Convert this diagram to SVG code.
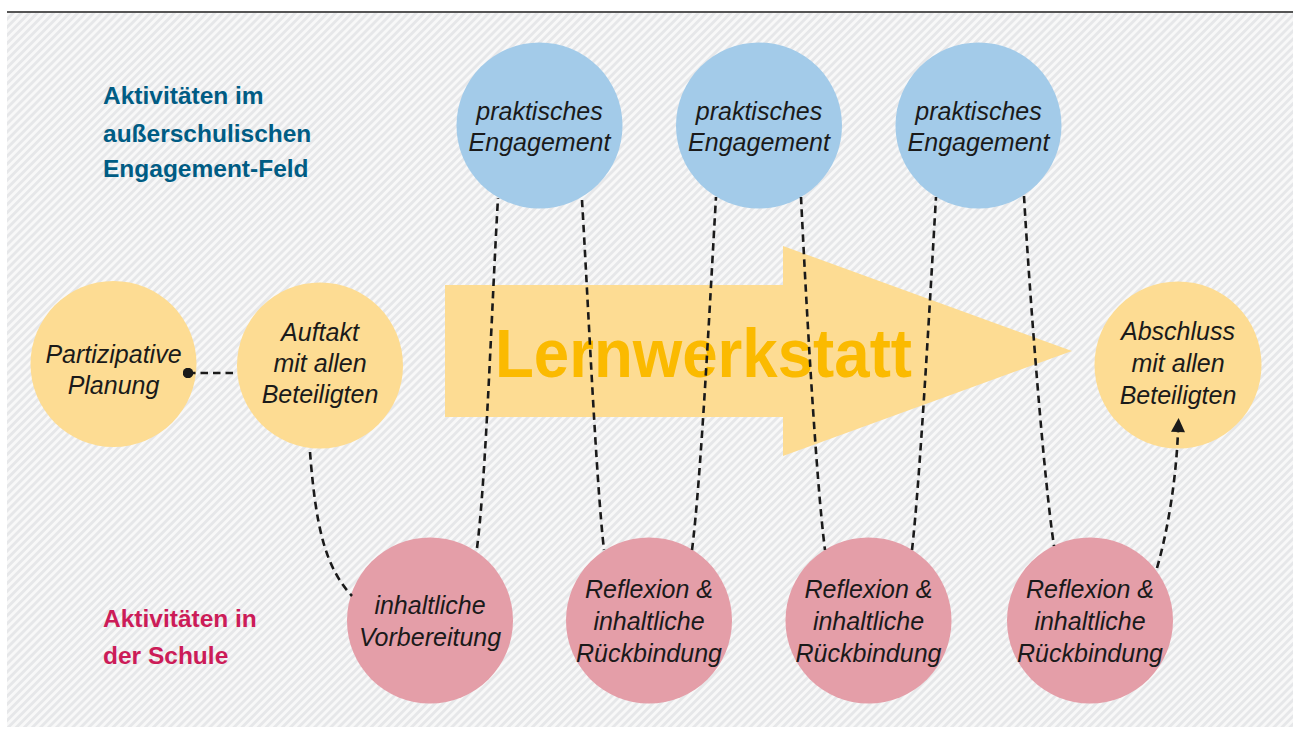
<svg xmlns="http://www.w3.org/2000/svg" width="1298" height="729" viewBox="0 0 1298 729">
<defs>
<pattern id="stripes" patternUnits="userSpaceOnUse" width="5.7" height="5.7" patternTransform="rotate(45)">
<rect x="0" y="0" width="5.7" height="5.7" fill="#f8f8f8"/>
<rect x="0" y="0" width="2.8" height="5.7" fill="#e6e7e9"/>
</pattern>
<marker id="arrow" viewBox="0 0 10 10" refX="0" refY="5" markerUnits="userSpaceOnUse" markerWidth="17" markerHeight="14" orient="auto">
<path d="M0,0 L10,5 L0,10 z" fill="#1a1a1a"/>
</marker>
<marker id="dot" viewBox="0 0 10 10" refX="5" refY="5" markerUnits="userSpaceOnUse" markerWidth="10.5" markerHeight="10.5">
<circle cx="5" cy="5" r="5" fill="#1a1a1a"/>
</marker>
</defs>
<style>
.yellow{fill:#fddc93}
.blue{fill:#a3cbe9}
.pink{fill:#e49ea8}
.ct{font-family:"Liberation Sans",Arial,sans-serif;font-style:italic;font-size:25px;fill:#1a1a1a;text-anchor:middle}
.lbl{font-family:"Liberation Sans","Noto Sans",sans-serif;font-weight:bold;font-size:24.5px}
.conn{fill:none;stroke:#1a1a1a;stroke-width:2.6;stroke-dasharray:7.5 5}
</style>
<rect x="7" y="12" width="1286" height="715" fill="url(#stripes)"/>
<line x1="7" y1="12" x2="1293" y2="12" stroke="#555555" stroke-width="2"/>

<g id="labels">
<text class="lbl" fill="#005c84" x="103" y="104">Aktivitäten im</text>
<text class="lbl" fill="#005c84" x="103" y="141.5">außerschulischen</text>
<text class="lbl" fill="#005c84" x="103" y="177">Engagement-Feld</text>
<text class="lbl" fill="#cc1c58" x="103" y="627">Aktivitäten in</text>
<text class="lbl" fill="#cc1c58" x="103" y="664">der Schule</text>
</g>

<g id="lernwerkstatt">
<polygon class="yellow" points="445,285 783,285 783,246 1072,351 783,456 783,417 445,417"/>
<text x="495" y="377" font-family="Liberation Sans, Arial, sans-serif" font-weight="bold" font-size="69" fill="#fbba00" textLength="417" lengthAdjust="spacingAndGlyphs">Lernwerkstatt</text>
</g>

<g id="partizipative">
<circle class="yellow" cx="113.5" cy="364" r="83"/>
<text class="ct" x="113.5" y="363">Partizipative</text>
<text class="ct" x="113.5" y="394">Planung</text>
</g>
<g id="auftakt">
<circle class="yellow" cx="320" cy="365.5" r="83"/>
<text class="ct" x="320" y="341">Auftakt</text>
<text class="ct" x="320" y="372">mit allen</text>
<text class="ct" x="320" y="403">Beteiligten</text>
</g>
<g id="abschluss">
<circle class="yellow" cx="1178" cy="365" r="83.5"/>
<text class="ct" x="1178" y="340">Abschluss</text>
<text class="ct" x="1178" y="372">mit allen</text>
<text class="ct" x="1178" y="404">Beteiligten</text>
</g>

<g id="engagement1">
<circle class="blue" cx="539.5" cy="125.5" r="83"/>
<text class="ct" x="539.5" y="120">praktisches</text>
<text class="ct" x="539.5" y="151">Engagement</text>
</g>
<g id="engagement2">
<circle class="blue" cx="759" cy="125.5" r="83"/>
<text class="ct" x="759" y="120">praktisches</text>
<text class="ct" x="759" y="151">Engagement</text>
</g>
<g id="engagement3">
<circle class="blue" cx="978.5" cy="125.5" r="83"/>
<text class="ct" x="978.5" y="120">praktisches</text>
<text class="ct" x="978.5" y="151">Engagement</text>
</g>

<g id="vorbereitung">
<circle class="pink" cx="430" cy="620.5" r="83"/>
<text class="ct" x="430" y="614">inhaltliche</text>
<text class="ct" x="430" y="646">Vorbereitung</text>
</g>
<g id="reflexion1">
<circle class="pink" cx="649" cy="620.5" r="83"/>
<text class="ct" x="649" y="598">Reflexion &amp;</text>
<text class="ct" x="649" y="630">inhaltliche</text>
<text class="ct" x="649" y="662">Rückbindung</text>
</g>
<g id="reflexion2">
<circle class="pink" cx="868.5" cy="620.5" r="83"/>
<text class="ct" x="868.5" y="598">Reflexion &amp;</text>
<text class="ct" x="868.5" y="630">inhaltliche</text>
<text class="ct" x="868.5" y="662">Rückbindung</text>
</g>
<g id="reflexion3">
<circle class="pink" cx="1090" cy="620.5" r="83"/>
<text class="ct" x="1090" y="598">Reflexion &amp;</text>
<text class="ct" x="1090" y="630">inhaltliche</text>
<text class="ct" x="1090" y="662">Rückbindung</text>
</g>

<g id="connectors">
<path class="conn" d="M188,373 L236,373" marker-start="url(#dot)"/>
<path class="conn" d="M310,452 C316,530 326,568 352,596"/>
<path class="conn" d="M477,548 C486,480 492,300 498,198"/>
<path class="conn" d="M582,200 C588,300 596,480 604,550"/>
<path class="conn" d="M692,550 C701,480 710,300 716,197"/>
<path class="conn" d="M801,197 C806,300 816,480 825,550"/>
<path class="conn" d="M912,550 C920,480 930,300 936,197"/>
<path class="conn" d="M1024,196 C1030,300 1044,480 1054,546"/>
<path class="conn" d="M1157,568 C1168,530 1176,480 1178,432" marker-end="url(#arrow)"/>
</g>
</svg>
